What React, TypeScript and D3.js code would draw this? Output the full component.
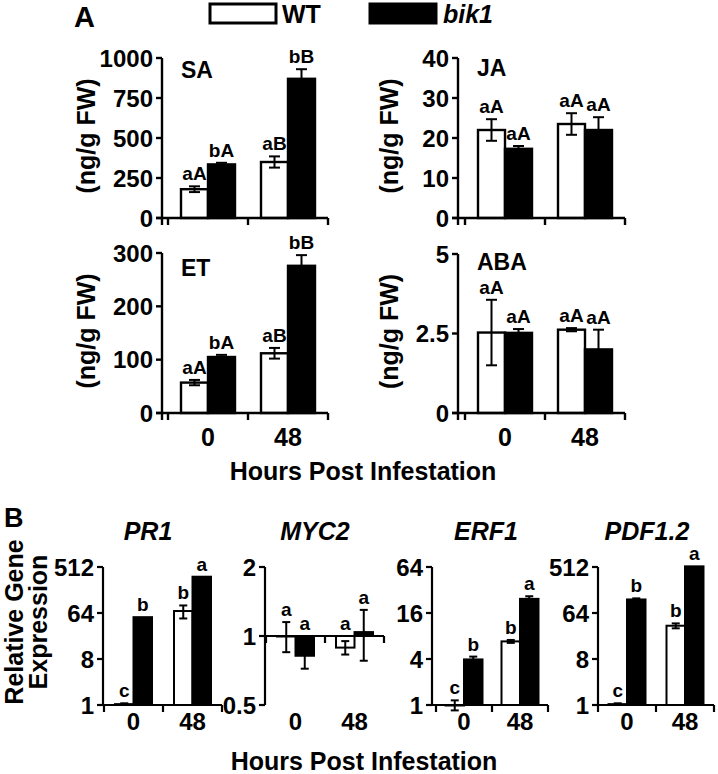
import React from "react";
import * as d3 from "d3";

const FONT = "'Liberation Sans', Arial, Helvetica, sans-serif";

const timePoints = ["0", "48"];
const genotypes = ["WT", "bik1"];

// ---- Panel A data (ng/g FW) ----
const saWT = [180, 350];
const saWTErr = [18, 35];
const saBik = [335, 870];
const saBikErr = [10, 60];
const saWTLetters = ["aA", "aB"];
const saBikLetters = ["bA", "bB"];
const saTicks = [0, 250, 500, 750, 1000];

const jaWT = [22, 23.5];
const jaWTErr = [2.7, 2.7];
const jaBik = [17.3, 22];
const jaBikErr = [0.7, 3.2];
const jaWTLetters = ["aA", "aA"];
const jaBikLetters = ["aA", "aA"];
const jaTicks = [0, 10, 20, 30, 40];

const etWT = [57, 112];
const etWTErr = [5, 10];
const etBik = [105, 276];
const etBikErr = [4, 20];
const etWTLetters = ["aA", "aB"];
const etBikLetters = ["bA", "bB"];
const etTicks = [0, 100, 200, 300];

const abaWT = [2.53, 2.62];
const abaWTErr = [1.03, 0.05];
const abaBik = [2.52, 2.0];
const abaBikErr = [0.12, 0.62];
const abaWTLetters = ["aA", "aA"];
const abaBikLetters = ["aA", "aA"];
const abaTicks = [0, 2.5, 5];

// ---- Panel B data (relative expression, log2 axes) ----
const pr1WT = [1.04, 70];
const pr1WTErr = [0.04, 20];
const pr1Bik = [53, 330];
const pr1BikErr = [0, 0];
const pr1WTLetters = ["c", "b"];
const pr1BikLetters = ["b", "a"];
const pr1Ticks = [1, 8, 64, 512];

const myc2WT = [1.0, 0.89];
const myc2WTErr = [0.15, 0.06];
const myc2Bik = [0.82, 1.04];
const myc2BikErr = [0.1, 0.26];
const myc2WTLetters = ["a", "a"];
const myc2BikLetters = ["a", "a"];
const myc2Ticks = [0.5, 1, 2];

const erf1WT = [1.0, 6.8];
const erf1WTErr = [0.15, 0.3];
const erf1Bik = [3.95, 24.5];
const erf1BikErr = [0.35, 2];
const erf1WTLetters = ["c", "b"];
const erf1BikLetters = ["b", "a"];
const erf1Ticks = [1, 4, 16, 64];

const pdfWT = [1.04, 36];
const pdfWTErr = [0.04, 4];
const pdfBik = [118, 527];
const pdfBikErr = [6, 0];
const pdfWTLetters = ["c", "b"];
const pdfBikLetters = ["b", "a"];
const pdfTicks = [1, 8, 64, 512];

type Series = { vals: number[]; errs: number[]; labs: string[]; fill: string };

function Bars({ x, y, barW, series, base, cap, labelSize, strokeW }: any) {
  const out: any[] = [];
  series.forEach((s: Series, si: number) => {
    timePoints.forEach((t, i) => {
      const v = s.vals[i];
      const e = s.errs[i];
      const cx = (x(t) as number) + x.bandwidth() / 2;
      const bx = cx - barW + si * barW;
      const y0 = y(base);
      const yv = y(v);
      const top = Math.min(y0, yv);
      const h = Math.abs(y0 - yv);
      const mid = bx + barW / 2;
      out.push(
        <rect key={`b${si}${i}`} x={bx} y={top} width={barW} height={Math.max(h, 0.5)}
          fill={s.fill} stroke="#000" strokeWidth={strokeW} />
      );
      if (e > 0) {
        const yh = y(v + e);
        const yl = y(v - e);
        out.push(
          <g key={`e${si}${i}`} stroke="#000" strokeWidth={2}>
            <line x1={mid} x2={mid} y1={yh} y2={yl} />
            <line x1={mid - cap / 2} x2={mid + cap / 2} y1={yh} y2={yh} />
            <line x1={mid - cap / 2} x2={mid + cap / 2} y1={yl} y2={yl} />
          </g>
        );
      }
      const labTop = Math.min(y(v + e), y0);
      out.push(
        <text key={`l${si}${i}`} x={mid} y={labTop - 6} textAnchor="middle"
          fontSize={labelSize} fontWeight="bold" fontFamily={FONT}>{s.labs[i]}</text>
      );
    });
  });
  return <g>{out}</g>;
}

function PanelA({ title, titleDy, wt, wtErr, bik, bikErr, wtLab, bikLab, ticks, x0, top, bottom, gx0 }: any) {
  const gw = 80;
  const barW = 27;
  const y = d3.scaleLinear().domain([0, ticks[ticks.length - 1]]).range([bottom, top]);
  const x = d3.scaleBand().domain(timePoints).range([gx0, gx0 + 2 * gw]).padding(0);
  const series: Series[] = [
    { vals: wt, errs: wtErr, labs: wtLab, fill: "#fff" },
    { vals: bik, errs: bikErr, labs: bikLab, fill: "#000" },
  ];
  const xEnd = gx0 + 2 * gw;
  return (
    <g>
      <Bars x={x} y={y} barW={barW} series={series} base={0} cap={11} labelSize={19} strokeW={2.4} />
      <g stroke="#000" strokeWidth={2.4} fill="none">
        <line x1={x0} x2={x0} y1={top} y2={bottom + 7} />
        <line x1={x0 - 6} x2={xEnd} y1={bottom} y2={bottom} />
        {ticks.map((t: number) => (
          <line key={t} x1={x0 - 6} x2={x0} y1={y(t)} y2={y(t)} />
        ))}
        {[0, 1, 2].map((k) => (
          <line key={k} x1={gx0 + k * gw} x2={gx0 + k * gw} y1={bottom} y2={bottom + 7} />
        ))}
      </g>
      {ticks.map((t: number) => (
        <text key={t} x={x0 - 9} y={y(t)} dy="0.36em" textAnchor="end" fontSize={24}
          fontWeight="bold" fontFamily={FONT}>{String(t)}</text>
      ))}
      <text x={x0 + 19} y={top + titleDy} fontSize={23} fontWeight="bold" fontFamily={FONT}>{title}</text>
      <text transform={`translate(${x0 - (x0 > 300 ? 60 : 67)},${(top + bottom) / 2 - 2}) rotate(-90)`}
        textAnchor="middle" fontSize={25} fontWeight="bold" fontFamily={FONT}>(ng/g FW)</text>
    </g>
  );
}

function PanelB({ title, titleX, wt, wtErr, bik, bikErr, wtLab, bikLab, ticks, x0, gx0, gw, base }: any) {
  const top = 567;
  const bottom = 705;
  const barW = 18.5;
  const y = d3.scaleLog().base(2).domain([ticks[0], ticks[ticks.length - 1]]).range([bottom, top]);
  const x = d3.scaleBand().domain(timePoints).range([gx0, gx0 + 2 * gw]).padding(0);
  const series: Series[] = [
    { vals: wt, errs: wtErr, labs: wtLab, fill: "#fff" },
    { vals: bik, errs: bikErr, labs: bikLab, fill: "#000" },
  ];
  const xEnd = gx0 + 2 * gw;
  const yAxisX = y(base);
  return (
    <g>
      <Bars x={x} y={y} barW={barW} series={series} base={base} cap={8} labelSize={19} strokeW={2} />
      <g stroke="#000" strokeWidth={2.2} fill="none">
        <line x1={x0} x2={x0} y1={top} y2={bottom} />
        {ticks.map((t: number) => (
          <line key={t} x1={x0 - 6} x2={x0} y1={y(t)} y2={y(t)} />
        ))}
        <line x1={x0} x2={xEnd} y1={yAxisX} y2={yAxisX} />
        {[0, 1, 2].map((k) => (
          <line key={k} x1={gx0 + k * gw} x2={gx0 + k * gw} y1={yAxisX} y2={yAxisX + 7} />
        ))}
      </g>
      {ticks.map((t: number) => (
        <text key={t} x={x0 - 9} y={y(t)} dy="0.36em" textAnchor="end" fontSize={24}
          fontWeight="bold" fontFamily={FONT}>{String(t)}</text>
      ))}
      {timePoints.map((t) => (
        <text key={t} x={(x(t) as number) + x.bandwidth() / 2} y={730} textAnchor="middle"
          fontSize={24} fontWeight="bold" fontFamily={FONT}>{t}</text>
      ))}
      <text x={titleX} y={540} textAnchor="middle" fontSize={25} fontWeight="bold"
        fontStyle="italic" fontFamily={FONT}>{title}</text>
    </g>
  );
}

export default function App() {
  const xA1 = d3.scaleBand().domain(timePoints).range([168, 328]);
  const xA2 = d3.scaleBand().domain(timePoints).range([465, 625]);
  return (
    <svg width={718} height={774} style={{ position: "absolute", left: 0, top: 0, background: "#fff" }}>
      <rect width={718} height={774} fill="#fff" />
      <text x={74} y={27} fontSize={29} fontWeight="bold" fontFamily={FONT}>A</text>
      {/* legend */}
      <rect x={210} y={4} width={66} height={19} fill="#fff" stroke="#000" strokeWidth={3} />
      <text x={282} y={23} fontSize={25} fontWeight="bold" fontFamily={FONT}>{genotypes[0]}</text>
      <rect x={370} y={4} width={66} height={19} fill="#000" stroke="#000" strokeWidth={3} />
      <text x={443} y={23} fontSize={25} fontWeight="bold" fontStyle="italic" fontFamily={FONT}>{genotypes[1]}</text>

      <PanelA title="SA" titleDy={20} wt={saWT} wtErr={saWTErr} bik={saBik} bikErr={saBikErr}
        wtLab={saWTLetters} bikLab={saBikLetters} ticks={saTicks} x0={162} top={58} bottom={218} gx0={168} />
      <PanelA title="JA" titleDy={18} wt={jaWT} wtErr={jaWTErr} bik={jaBik} bikErr={jaBikErr}
        wtLab={jaWTLetters} bikLab={jaBikLetters} ticks={jaTicks} x0={458} top={58} bottom={218} gx0={465} />
      <PanelA title="ET" titleDy={23} wt={etWT} wtErr={etWTErr} bik={etBik} bikErr={etBikErr}
        wtLab={etWTLetters} bikLab={etBikLetters} ticks={etTicks} x0={162} top={253} bottom={413} gx0={168} />
      <PanelA title="ABA" titleDy={16} wt={abaWT} wtErr={abaWTErr} bik={abaBik} bikErr={abaBikErr}
        wtLab={abaWTLetters} bikLab={abaBikLetters} ticks={abaTicks} x0={458} top={254} bottom={413} gx0={465} />

      {timePoints.map((t) => (
        <g key={t}>
          <text x={(xA1(t) as number) + xA1.bandwidth() / 2} y={446} textAnchor="middle" fontSize={25}
            fontWeight="bold" fontFamily={FONT}>{t}</text>
          <text x={(xA2(t) as number) + xA2.bandwidth() / 2} y={446} textAnchor="middle" fontSize={25}
            fontWeight="bold" fontFamily={FONT}>{t}</text>
        </g>
      ))}
      <text x={363} y={480} textAnchor="middle" fontSize={25} fontWeight="bold" fontFamily={FONT}>Hours Post Infestation</text>

      <text x={4} y={527} fontSize={27} fontWeight="bold" fontFamily={FONT}>B</text>
      <text transform="translate(23,622) rotate(-90)" textAnchor="middle" fontSize={25} fontWeight="bold" fontFamily={FONT}>Relative Gene</text>
      <text transform="translate(47,622) rotate(-90)" textAnchor="middle" fontSize={25} fontWeight="bold" fontFamily={FONT}>Expression</text>

      <PanelB title="PR1" titleX={148} wt={pr1WT} wtErr={pr1WTErr} bik={pr1Bik} bikErr={pr1BikErr}
        wtLab={pr1WTLetters} bikLab={pr1BikLetters} ticks={pr1Ticks} x0={103} gx0={104} gw={59} base={1} />
      <PanelB title="MYC2" titleX={315} wt={myc2WT} wtErr={myc2WTErr} bik={myc2Bik} bikErr={myc2BikErr}
        wtLab={myc2WTLetters} bikLab={myc2BikLetters} ticks={myc2Ticks} x0={265} gx0={266} gw={59} base={1} />
      <PanelB title="ERF1" titleX={486} wt={erf1WT} wtErr={erf1WTErr} bik={erf1Bik} bikErr={erf1BikErr}
        wtLab={erf1WTLetters} bikLab={erf1BikLetters} ticks={erf1Ticks} x0={432} gx0={436} gw={56} base={1} />
      <PanelB title="PDF1.2" titleX={647} wt={pdfWT} wtErr={pdfWTErr} bik={pdfBik} bikErr={pdfBikErr}
        wtLab={pdfWTLetters} bikLab={pdfBikLetters} ticks={pdfTicks} x0={598} gx0={598} gw={58} base={1} />

      <text x={364} y={770} textAnchor="middle" fontSize={25} fontWeight="bold" fontFamily={FONT}>Hours Post Infestation</text>
    </svg>
  );
}
